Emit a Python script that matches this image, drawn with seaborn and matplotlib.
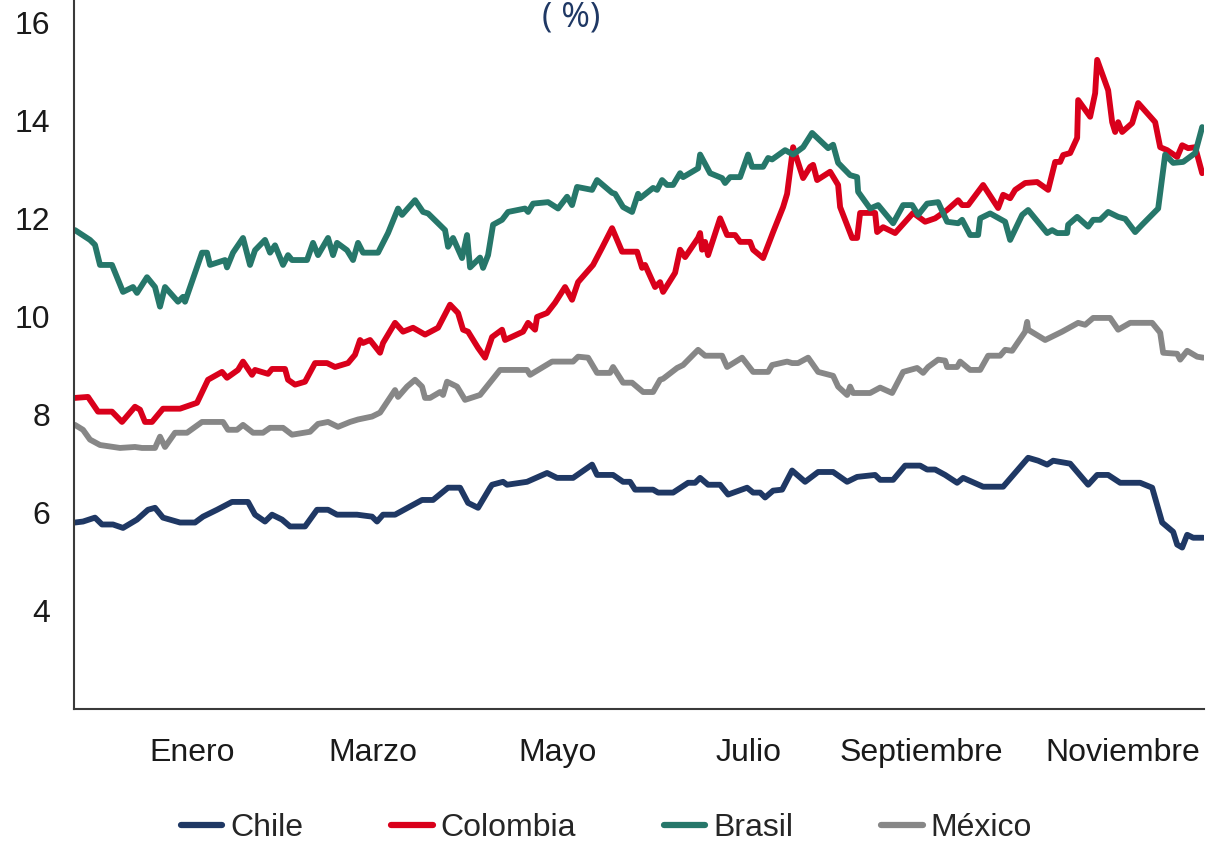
import matplotlib
matplotlib.use("Agg")
import matplotlib.pyplot as plt
import seaborn as sns
import pandas as pd

# time index (trading-day scale across the year) and yields (%)
chile_t = [1, 9, 21, 28, 39, 49, 63, 74, 81, 89, 106, 121, 129, 143, 158, 174, 181, 191, 198, 208,
           216, 231, 243, 254, 263, 283, 298, 303, 309, 321, 348, 359, 374, 386, 394, 404, 416, 418,
           429, 433, 453, 473, 483, 499, 518, 523, 539, 549, 556, 561, 569, 579, 584, 599, 614, 621,
           626, 634, 646, 654, 673, 679, 686, 691, 699, 708, 718, 731, 744, 759, 773, 783, 801, 806,
           819, 831, 846, 853, 861, 871, 883, 889, 909, 929, 954, 964, 973, 979, 996, 1014, 1023,
           1034, 1046, 1066, 1078, 1088, 1099, 1103, 1108, 1113, 1119, 1129]
chile_v = [5.80, 5.82, 5.90, 5.76, 5.76, 5.69, 5.86, 6.06, 6.10, 5.90, 5.80, 5.80, 5.92, 6.06, 6.22,
           6.22, 5.96, 5.82, 5.96, 5.86, 5.72, 5.72, 6.06, 6.06, 5.96, 5.96, 5.92, 5.82, 5.96, 5.96,
           6.26, 6.26, 6.51, 6.51, 6.20, 6.10, 6.51, 6.57, 6.63, 6.57, 6.63, 6.81, 6.71, 6.71, 6.98,
           6.77, 6.77, 6.63, 6.63, 6.47, 6.47, 6.47, 6.41, 6.41, 6.61, 6.61, 6.71, 6.57, 6.57, 6.37,
           6.51, 6.41, 6.41, 6.31, 6.45, 6.47, 6.86, 6.63, 6.83, 6.83, 6.63, 6.73, 6.77, 6.67, 6.67,
           6.96, 6.96, 6.88, 6.88, 6.77, 6.61, 6.71, 6.53, 6.53, 7.12, 7.06, 6.98, 7.06, 7.00, 6.57,
           6.77, 6.77, 6.61, 6.61, 6.51, 5.80, 5.61, 5.35, 5.29, 5.55, 5.49, 5.49]

colombia_t = [1, 14, 24, 38, 48, 61, 66, 71, 78, 89, 106, 123, 134, 148, 153, 164, 169, 178, 181, 194,
              198, 211, 214, 221, 231, 241, 253, 261, 274, 281, 286, 289, 296, 306, 309, 321, 329, 339,
              351, 364, 376, 384, 389, 394, 404, 411, 418, 428, 431, 449, 454, 461, 463, 473, 481, 491,
              498, 504, 519, 528, 538, 548, 563, 568, 571, 581, 586, 589, 601, 606, 611, 624, 626, 628,
              631, 634, 646, 653, 661, 666, 676, 679, 689, 699, 709, 713, 719, 729, 736, 739, 743, 756,
              764, 766, 778, 783, 786, 801, 803, 809, 821, 839, 851, 861, 873, 884, 888, 894, 909, 924,
              929, 936, 941, 951, 963, 974, 981, 986, 989, 996, 1003, 1004, 1016, 1021, 1023, 1034,
              1038, 1041, 1044, 1048, 1058, 1064, 1081, 1086, 1093, 1103, 1108, 1114, 1121, 1128]
colombia_v = [8.34, 8.36, 8.06, 8.06, 7.85, 8.16, 8.10, 7.85, 7.85, 8.12, 8.12, 8.24, 8.71, 8.87, 8.75,
              8.91, 9.08, 8.81, 8.91, 8.83, 8.93, 8.93, 8.71, 8.61, 8.67, 9.05, 9.05, 8.97, 9.05, 9.22,
              9.52, 9.46, 9.52, 9.26, 9.46, 9.87, 9.69, 9.77, 9.63, 9.77, 10.24, 10.07, 9.73, 9.69,
              9.36, 9.16, 9.58, 9.73, 9.52, 9.69, 9.87, 9.73, 9.99, 10.07, 10.28, 10.60, 10.34, 10.70,
              11.05, 11.40, 11.80, 11.32, 11.32, 10.99, 11.05, 10.60, 10.70, 10.50, 10.89, 11.36, 11.21,
              11.60, 11.70, 11.36, 11.52, 11.25, 12.00, 11.66, 11.66, 11.52, 11.52, 11.36, 11.19, 11.72,
              12.23, 12.50, 13.45, 12.82, 13.05, 13.09, 12.78, 12.95, 12.68, 12.23, 11.60, 11.60, 12.11,
              12.11, 11.72, 11.82, 11.70, 12.11, 11.93, 12.00, 12.17, 12.37, 12.27, 12.27, 12.68, 12.21,
              12.48, 12.41, 12.58, 12.72, 12.74, 12.58, 13.15, 13.15, 13.29, 13.33, 13.64, 14.41, 14.07,
              14.55, 15.23, 14.61, 13.96, 13.76, 13.96, 13.76, 13.94, 14.35, 13.96, 13.45, 13.39, 13.25,
              13.49, 13.43, 13.45, 12.92]

brasil_t = [1, 16, 21, 26, 38, 49, 59, 63, 73, 81, 86, 91, 104, 109, 111, 128, 133, 136, 151, 153, 159,
            169, 176, 181, 191, 196, 201, 209, 214, 218, 233, 239, 244, 254, 259, 263, 273, 279, 284,
            289, 304, 314, 324, 328, 341, 349, 354, 371, 374, 379, 388, 393, 396, 406, 409, 414, 419,
            428, 434, 451, 454, 459, 474, 484, 493, 498, 503, 518, 523, 538, 541, 549, 558, 564, 566,
            579, 583, 588, 593, 599, 606, 609, 624, 626, 636, 648, 651, 656, 666, 674, 678, 689, 694,
            698, 711, 719, 729, 738, 754, 759, 764, 776, 783, 784, 796, 804, 819, 829, 838, 844, 853,
            864, 873, 884, 888, 896, 904, 906, 916, 931, 936, 948, 954, 973, 978, 983, 993, 994, 1003,
            1014, 1019, 1026, 1034, 1044, 1051, 1061, 1068, 1084, 1091, 1099, 1109, 1121, 1128]
brasil_v = [11.76, 11.56, 11.46, 11.05, 11.05, 10.50, 10.60, 10.48, 10.80, 10.60, 10.20, 10.60, 10.30,
            10.40, 10.30, 11.30, 11.30, 11.05, 11.15, 11.00, 11.30, 11.60, 11.05, 11.35, 11.56, 11.30,
            11.45, 11.05, 11.25, 11.15, 11.15, 11.50, 11.25, 11.60, 11.25, 11.50, 11.35, 11.15, 11.50,
            11.30, 11.30, 11.70, 12.20, 12.07, 12.37, 12.13, 12.10, 11.76, 11.42, 11.60, 11.19, 11.66,
            11.00, 11.20, 10.99, 11.25, 11.87, 11.97, 12.13, 12.20, 12.13, 12.30, 12.33, 12.20, 12.44,
            12.27, 12.64, 12.58, 12.78, 12.52, 12.50, 12.23, 12.13, 12.50, 12.41, 12.62, 12.58, 12.78,
            12.68, 12.68, 12.92, 12.84, 13.02, 13.30, 12.92, 12.82, 12.72, 12.84, 12.84, 13.30, 13.05,
            13.05, 13.23, 13.20, 13.39, 13.30, 13.45, 13.74, 13.43, 13.50, 13.13, 12.88, 12.84, 12.54,
            12.20, 12.27, 11.90, 12.27, 12.27, 12.07, 12.30, 12.33, 11.93, 11.90, 11.97, 11.66, 11.66,
            12.00, 12.10, 11.93, 11.56, 12.07, 12.17, 11.70, 11.76, 11.70, 11.70, 11.87, 12.03, 11.83,
            11.97, 11.97, 12.13, 12.03, 11.99, 11.72, 11.87, 12.20, 13.30, 13.13, 13.15, 13.33, 13.86]

mexico_t = [1, 9, 16, 26, 46, 61, 68, 81, 86, 91, 101, 113, 128, 149, 154, 163, 169, 179, 189, 196, 209,
            218, 236, 244, 254, 264, 276, 284, 298, 306, 321, 324, 333, 341, 348, 351, 356, 366, 369,
            373, 383, 391, 406, 426, 453, 456, 478, 499, 504, 514, 523, 536, 539, 549, 558, 569, 579,
            586, 589, 603, 609, 624, 631, 648, 653, 668, 679, 694, 698, 713, 718, 724, 734, 744, 759,
            764, 773, 776, 779, 796, 806, 818, 829, 843, 849, 854, 864, 871, 873, 883, 886, 896, 906,
            914, 926, 931, 938, 951, 953, 954, 971, 988, 1004, 1011, 1019, 1036, 1044, 1056, 1078,
            1086, 1089, 1103, 1106, 1113, 1123, 1129]
mexico_v = [7.79, 7.69, 7.49, 7.38, 7.32, 7.34, 7.32, 7.32, 7.55, 7.34, 7.63, 7.63, 7.85, 7.85, 7.69,
            7.69, 7.79, 7.63, 7.63, 7.73, 7.73, 7.59, 7.65, 7.81, 7.85, 7.75, 7.85, 7.90, 7.96, 8.04,
            8.50, 8.36, 8.57, 8.71, 8.57, 8.34, 8.34, 8.46, 8.40, 8.67, 8.57, 8.30, 8.40, 8.91, 8.91,
            8.81, 9.08, 9.08, 9.18, 9.16, 8.85, 8.85, 8.97, 8.65, 8.65, 8.46, 8.46, 8.71, 8.73, 8.95,
            9.01, 9.32, 9.20, 9.20, 8.97, 9.16, 8.87, 8.87, 9.01, 9.08, 9.05, 9.05, 9.16, 8.87, 8.79,
            8.57, 8.40, 8.57, 8.44, 8.44, 8.55, 8.44, 8.87, 8.95, 8.85, 8.97, 9.12, 9.10, 8.97, 8.97,
            9.08, 8.91, 8.91, 9.20, 9.20, 9.32, 9.30, 9.69, 9.89, 9.73, 9.52, 9.69, 9.87, 9.83, 9.97,
            9.97, 9.73, 9.87, 9.87, 9.67, 9.26, 9.24, 9.12, 9.30, 9.18, 9.16]

month_labels = ["Enero", "Marzo", "Mayo", "Julio", "Septiembre", "Noviembre"]
month_pos = [118, 299, 483, 674, 847, 1049]

paises = ["Chile", "Colombia", "Brasil", "México"]
colores = {"Chile": "#1f3864", "Colombia": "#d9001b", "Brasil": "#26776a", "México": "#878787"}

frames = []
for pais, t, v in [("Chile", chile_t, chile_v), ("Colombia", colombia_t, colombia_v),
                   ("Brasil", brasil_t, brasil_v), ("México", mexico_t, mexico_v)]:
    frames.append(pd.DataFrame({"t": t, "tasa": v, "pais": pais}))
df = pd.concat(frames, ignore_index=True)

sns.set_style("white")
plt.rcParams["font.family"] = ["Liberation Sans", "DejaVu Sans"]

fig = plt.figure(figsize=(12.25, 8.42), dpi=100)
ax = fig.add_axes([0.0604, 0.158, 0.9226, 0.842])

sns.lineplot(data=df, x="t", y="tasa", hue="pais", hue_order=paises, palette=colores,
             estimator=None, sort=False, linewidth=4.2, ax=ax)

ax.set_xlim(0, 1130)
ax.set_ylim(2, 16.45)
ax.set_yticks([4, 6, 8, 10, 12, 14, 16])
ax.set_xticks(month_pos)
ax.set_xticklabels(month_labels)
ax.set_xlabel("")
ax.set_ylabel("")
ax.tick_params(axis="both", length=0, labelsize=23, colors="#1a1a1a")
ax.tick_params(axis="y", pad=17)
ax.tick_params(axis="x", pad=21)
for s in ["top", "right"]:
    ax.spines[s].set_visible(False)
for s in ["left", "bottom"]:
    ax.spines[s].set_color("#3a3a3a")
    ax.spines[s].set_linewidth(1.5)

handles, labels = ax.get_legend_handles_labels()
ax.get_legend().remove()
leg = fig.legend(handles, labels, loc="center", bbox_to_anchor=(0.495, 0.017), ncol=4,
                 frameon=False, fontsize=23, handlelength=1.3, handletextpad=0.25,
                 columnspacing=2.75)
for line in leg.get_lines():
    line.set_linewidth(4.5)

# chart title, cut by the top edge in the source
fig.text(0.466, 1.0, "( %)", ha="center", va="top", fontsize=25, color="#1f3864",
         fontfamily="Open Sans")

fig.savefig("out.png", dpi=100)
